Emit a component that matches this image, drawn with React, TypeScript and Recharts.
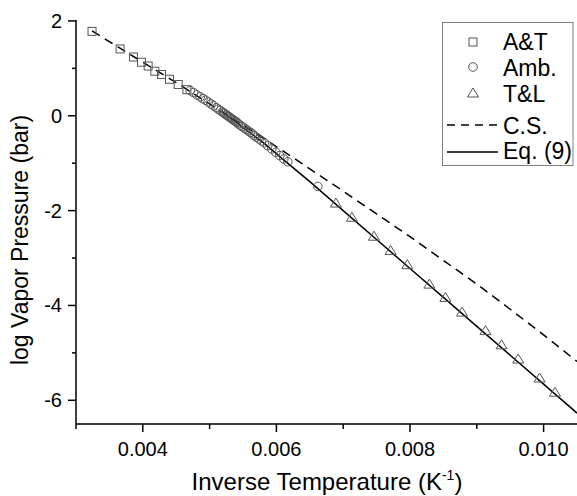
import * as React from "react";
import { ScatterChart, Scatter, XAxis, YAxis } from "recharts";

// A&T (squares)
const atX = [0.00324, 0.00366, 0.00386, 0.00398, 0.00408, 0.00418, 0.00428, 0.0044, 0.00453, 0.00466];
const atY = [1.78, 1.41, 1.24, 1.13, 1.05, 0.94, 0.87, 0.77, 0.66, 0.55];

// Amb. (circles)
const ambX = [
  0.00471, 0.00476, 0.00481, 0.00486, 0.0049, 0.00494, 0.00498, 0.00502, 0.00506, 0.0051,
  0.00513, 0.00516, 0.00519, 0.00521, 0.00523, 0.00525, 0.00527, 0.00529, 0.00531, 0.00533,
  0.00535, 0.00537, 0.00539, 0.00541, 0.00543, 0.00546, 0.00549, 0.00552, 0.00555, 0.00558,
  0.00561, 0.00564, 0.00567, 0.0057, 0.00574, 0.00578, 0.00582, 0.00587, 0.00593, 0.00599,
  0.00605, 0.00611, 0.00617, 0.00662,
];
const ambY = [
  0.53, 0.49, 0.44, 0.4, 0.36, 0.33, 0.29, 0.25, 0.21, 0.17,
  0.14, 0.11, 0.08, 0.06, 0.04, 0.02, 0.0, -0.02, -0.04, -0.06,
  -0.08, -0.1, -0.12, -0.14, -0.17, -0.2, -0.23, -0.26, -0.29, -0.32,
  -0.35, -0.38, -0.42, -0.45, -0.49, -0.53, -0.57, -0.63, -0.7, -0.77,
  -0.84, -0.91, -0.97, -1.49,
];

// T&L (triangles)
const tlX = [0.00689, 0.00713, 0.00746, 0.00771, 0.00796, 0.00829, 0.00853, 0.00878, 0.00913, 0.00937, 0.00962, 0.00994, 0.01017];
const tlY = [-1.84, -2.14, -2.54, -2.84, -3.14, -3.55, -3.83, -4.14, -4.53, -4.83, -5.13, -5.53, -5.83];

// C.S. (dashed)
const csX = [0.00324, 0.004, 0.0045, 0.005, 0.0055, 0.006, 0.0065, 0.007, 0.0075, 0.008, 0.0085, 0.009, 0.0095, 0.01, 0.0105];
const csY = [1.79, 1.13, 0.7, 0.25, -0.2, -0.65, -1.12, -1.59, -2.07, -2.55, -3.05, -3.55, -4.08, -4.62, -5.18];

// Eq. (9) (solid)
const eqX = [0.0052, 0.0055, 0.0058, 0.0061, 0.0065, 0.007, 0.0075, 0.008, 0.0085, 0.009, 0.0095, 0.01, 0.0105];
const eqY = [0.07, -0.25, -0.56, -0.92, -1.39, -2.0, -2.61, -3.22, -3.83, -4.44, -5.05, -5.66, -6.27];

const xTicks = [0.003, 0.004, 0.005, 0.006, 0.007, 0.008, 0.009, 0.01];
const yTicks = [-6, -5, -4, -3, -2, -1, 0, 1, 2];

const zip = (xs: number[], ys: number[]) => xs.map((x, i) => ({ x, y: ys[i] }));

const FONT = "'Liberation Sans', Arial, Helvetica, sans-serif";
const MARK = "#555";

const Square = ({ cx, cy }: any) => (
  <rect x={cx - 4} y={cy - 4} width={8} height={8} fill="none" stroke={MARK} strokeWidth={1} />
);
const Circle = ({ cx, cy }: any) => <circle cx={cx} cy={cy} r={4.3} fill="none" stroke={MARK} strokeWidth={1} />;
const Triangle = ({ cx, cy }: any) => (
  <polygon
    points={`${cx},${cy - 5} ${cx + 5.5},${cy + 4} ${cx - 5.5},${cy + 4}`}
    fill="none"
    stroke={MARK}
    strokeWidth={1}
  />
);
const NoDot = () => <g />;

const XTick = ({ x, y, payload }: any) => {
  const major = Math.round(payload.value * 1000) % 2 === 0;
  return (
    <g>
      <line x1={x} y1={y} x2={x} y2={y + (major ? 8 : 5)} stroke="#000" strokeWidth={1.5} />
      {major && (
        <text x={x} y={y + 32} textAnchor="middle" fontSize={20} fontFamily={FONT} fill="#000">
          {payload.value.toFixed(3)}
        </text>
      )}
    </g>
  );
};

const YTick = ({ x, y, payload }: any) => {
  const major = payload.value % 2 === 0;
  return (
    <g>
      <line x1={x - (major ? 8 : 4)} y1={y} x2={x} y2={y} stroke="#000" strokeWidth={1.5} />
      {major && (
        <text x={x - 14} y={y + 7} textAnchor="end" fontSize={20} fontFamily={FONT} fill="#000">
          {String(payload.value)}
        </text>
      )}
    </g>
  );
};

const XTitle = () => (
  <text x={327} y={490} textAnchor="middle" fontSize={24} fontFamily={FONT} fill="#000">
    Inverse Temperature (K
    <tspan dy={-10} fontSize={14}>-1</tspan>
    <tspan dy={10}>)</tspan>
  </text>
);

const YTitle = () => (
  <text
    x={28}
    y={240}
    transform="rotate(-90 28 240)"
    textAnchor="middle"
    fontSize={23}
    fontFamily={FONT}
    fill="#000"
  >
    log Vapor Pressure (bar)
  </text>
);

function LegendBox() {
  const t = { fontSize: 23, fontFamily: FONT, fill: "#000" };
  return (
    <svg width={577} height={496} style={{ position: "absolute", left: 0, top: 0, pointerEvents: "none" }}>
      <rect x={442.5} y={22.5} width={130.5} height={143} fill="#fff" stroke="#808080" strokeWidth={1} />
      <Square cx={473} cy={42} />
      <text x={503} y={50} {...t}>A&amp;T</text>
      <Circle cx={473} cy={67} />
      <text x={503} y={75.5} {...t}>Amb.</text>
      <Triangle cx={473} cy={93} />
      <text x={503} y={102} {...t}>T&amp;L</text>
      <line x1={447} y1={125} x2={498} y2={125} stroke="#000" strokeWidth={1.5} strokeDasharray="8 6" />
      <text x={503} y={134} {...t}>C.S.</text>
      <line x1={447} y1={152} x2={498} y2={152} stroke="#000" strokeWidth={1.5} />
      <text x={503} y={158.5} {...t}>Eq. (9)</text>
    </svg>
  );
}

export default function App() {
  return (
    <div style={{ position: "absolute", left: 0, top: 0, width: 577, height: 496, background: "#fff" }}>
      <ScatterChart width={577} height={496} margin={{ top: 20, right: 0, bottom: 0, left: 0 }}>
        <XAxis
          type="number"
          dataKey="x"
          domain={[0.003, 0.0105]}
          ticks={xTicks}
          interval={0}
          allowDataOverflow
          height={72}
          stroke="#000"
          axisLine={{ stroke: "#000", strokeWidth: 1.5 }}
          tickLine={false}
          tickSize={0}
          tickMargin={0}
          tick={<XTick />}
          label={<XTitle />}
        />
        <YAxis
          type="number"
          dataKey="y"
          domain={[-6.5, 2.02]}
          ticks={yTicks}
          interval={0}
          allowDataOverflow
          width={76}
          axisLine={{ stroke: "#000", strokeWidth: 1.5 }}
          tickLine={false}
          tickSize={0}
          tickMargin={0}
          tick={<YTick />}
          label={<YTitle />}
        />
        <Scatter
          data={zip(csX, csY)}
          line={{ stroke: "#000", strokeWidth: 1.5, strokeDasharray: "9 6" }}
          shape={NoDot}
          isAnimationActive={false}
        />
        <Scatter
          data={zip(eqX, eqY)}
          line={{ stroke: "#000", strokeWidth: 1.5 }}
          shape={NoDot}
          isAnimationActive={false}
        />
        <Scatter data={zip(atX, atY)} shape={Square} isAnimationActive={false} />
        <Scatter data={zip(ambX, ambY)} shape={Circle} isAnimationActive={false} />
        <Scatter data={zip(tlX, tlY)} shape={Triangle} isAnimationActive={false} />
      </ScatterChart>
      <LegendBox />
    </div>
  );
}
